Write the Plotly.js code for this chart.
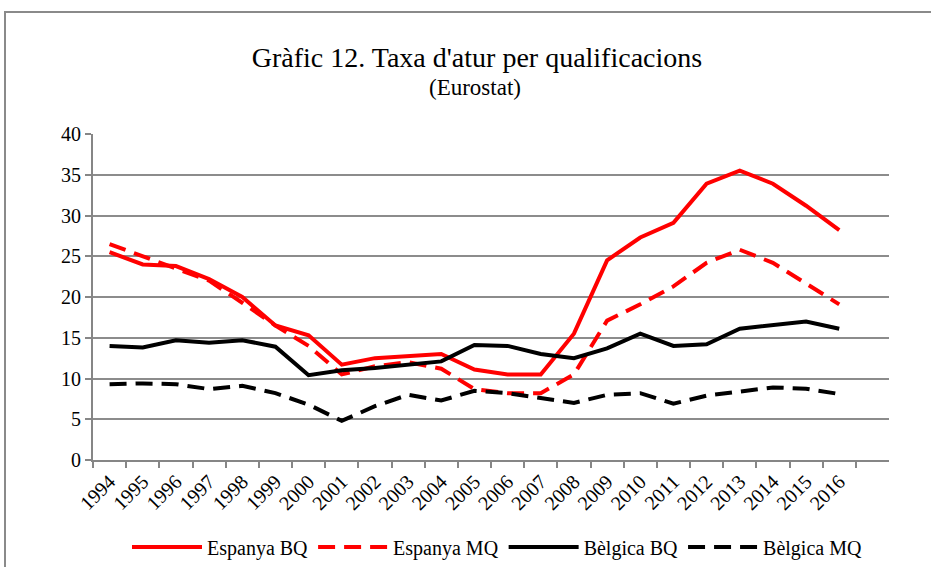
<!DOCTYPE html>
<html>
<head>
<meta charset="utf-8">
<script src="https://cdn.plot.ly/plotly-3.0.1.min.js"></script>
<style>
  html, body { margin: 0; padding: 0; background: #fff; }
  #chart { width: 931px; height: 567px; }
</style>
</head>
<body>
<div id="chart"></div>
<script>
const years = ['1994','1995','1996','1997','1998','1999','2000','2001','2002','2003','2004','2005',
               '2006','2007','2008','2009','2010','2011','2012','2013','2014','2015','2016'];
const espanyaBQ = [25.5, 24.0, 23.8, 22.2, 20.0, 16.5, 15.3, 11.7, 12.5, 12.8, 13.0, 11.1,
                   10.5, 10.5, 15.5, 24.5, 27.3, 29.1, 33.9, 35.5, 33.9, 31.2, 28.2];
const espanyaMQ = [26.5, 25.0, 23.5, 22.0, 19.3, 16.5, 14.0, 10.5, 11.5, 12.0, 11.2, 8.7,
                   8.2, 8.2, 10.5, 17.1, 19.1, 21.3, 24.2, 25.8, 24.2, 21.6, 19.1];
const belgicaBQ = [14.0, 13.8, 14.7, 14.4, 14.7, 13.9, 10.4, 11.0, 11.3, 11.7, 12.1, 14.1,
                   14.0, 13.0, 12.5, 13.7, 15.5, 14.0, 14.2, 16.1, 16.5, 17.0, 16.1];
const belgicaMQ = [9.3, 9.4, 9.3, 8.7, 9.1, 8.2, 6.8, 4.8, 6.6, 8.0, 7.3, 8.5,
                   8.2, 7.6, 7.0, 8.0, 8.2, 6.9, 7.9, 8.4, 8.9, 8.75, 8.1];
const seriesNames = ['Espanya BQ', 'Espanya MQ', 'Bèlgica BQ', 'Bèlgica MQ'];
const yTicks = [0, 5, 10, 15, 20, 25, 30, 35, 40];

const FONT = 'Times New Roman';
const DASH = '17px,9px';
function tr(y, name, color, dash) {
  return { x: years, y: y, name: name, type: 'scatter', mode: 'lines',
           line: { color: color, width: 4, dash: dash } };
}
const data = [
  tr(espanyaBQ, seriesNames[0], '#ff0000', 'solid'),
  tr(espanyaMQ, seriesNames[1], '#ff0000', DASH),
  tr(belgicaBQ, seriesNames[2], '#000000', 'solid'),
  tr(belgicaMQ, seriesNames[3], '#000000', DASH)
];
const layout = {
  width: 931, height: 567,
  margin: { l: 93, r: 42, t: 134, b: 107, autoexpand: false },
  paper_bgcolor: '#fff', plot_bgcolor: '#fff',
  font: { family: FONT, size: 20, color: '#000' },
  title: { text: "Gràfic 12. Taxa d'atur per qualificacions", font: { family: FONT, size: 28, color: '#000' },
           xref: 'container', x: 477/931, xanchor: 'center', yref: 'container', y: 1 - 57/567, yanchor: 'middle' },
  annotations: [{ text: '(Eurostat)', xref: 'paper', yref: 'paper', x: (475-93)/796, y: (460-88)/326,
                  xanchor: 'center', yanchor: 'middle', showarrow: false, font: { family: FONT, size: 23, color: '#000' } }],
  xaxis: {
    type: 'category', categoryorder: 'array', categoryarray: years, automargin: false,
    range: [-0.5, 23.5], tickson: 'boundaries',
    showgrid: false, showline: true, linecolor: '#868686', linewidth: 2,
    ticks: 'outside', ticklen: 6, tickcolor: '#868686', tickwidth: 2,
    tickangle: -45, tickfont: { family: FONT, size: 20, color: '#000' }, zeroline: false, fixedrange: true
  },
  yaxis: {
    range: [0, 40], tickvals: yTicks, showgrid: true, gridcolor: '#8c8c8c', gridwidth: 2, automargin: false,
    showline: true, linecolor: '#868686', linewidth: 2,
    ticks: 'outside', ticklen: 6, tickcolor: '#868686', tickwidth: 2,
    tickfont: { family: FONT, size: 20, color: '#000' }, zeroline: false, fixedrange: true
  },
  legend: { orientation: 'h', x: (497-93)/796, xanchor: 'center', y: (460-547)/326, yanchor: 'middle',
            font: { family: FONT, size: 20, color: '#000' }, itemwidth: 70, bgcolor: 'rgba(0,0,0,0)' },
  shapes: [{ type: 'rect', xref: 'paper', yref: 'paper',
             x0: (5-93)/796, x1: (960-93)/796, y0: (460-600)/326, y1: (460-12)/326,
             line: { color: '#8a8a8a', width: 2 }, fillcolor: 'rgba(0,0,0,0)', layer: 'below' }],
  showlegend: true
};
Plotly.newPlot('chart', data, layout, { displayModeBar: false, staticPlot: true });
</script>
</body>
</html>
